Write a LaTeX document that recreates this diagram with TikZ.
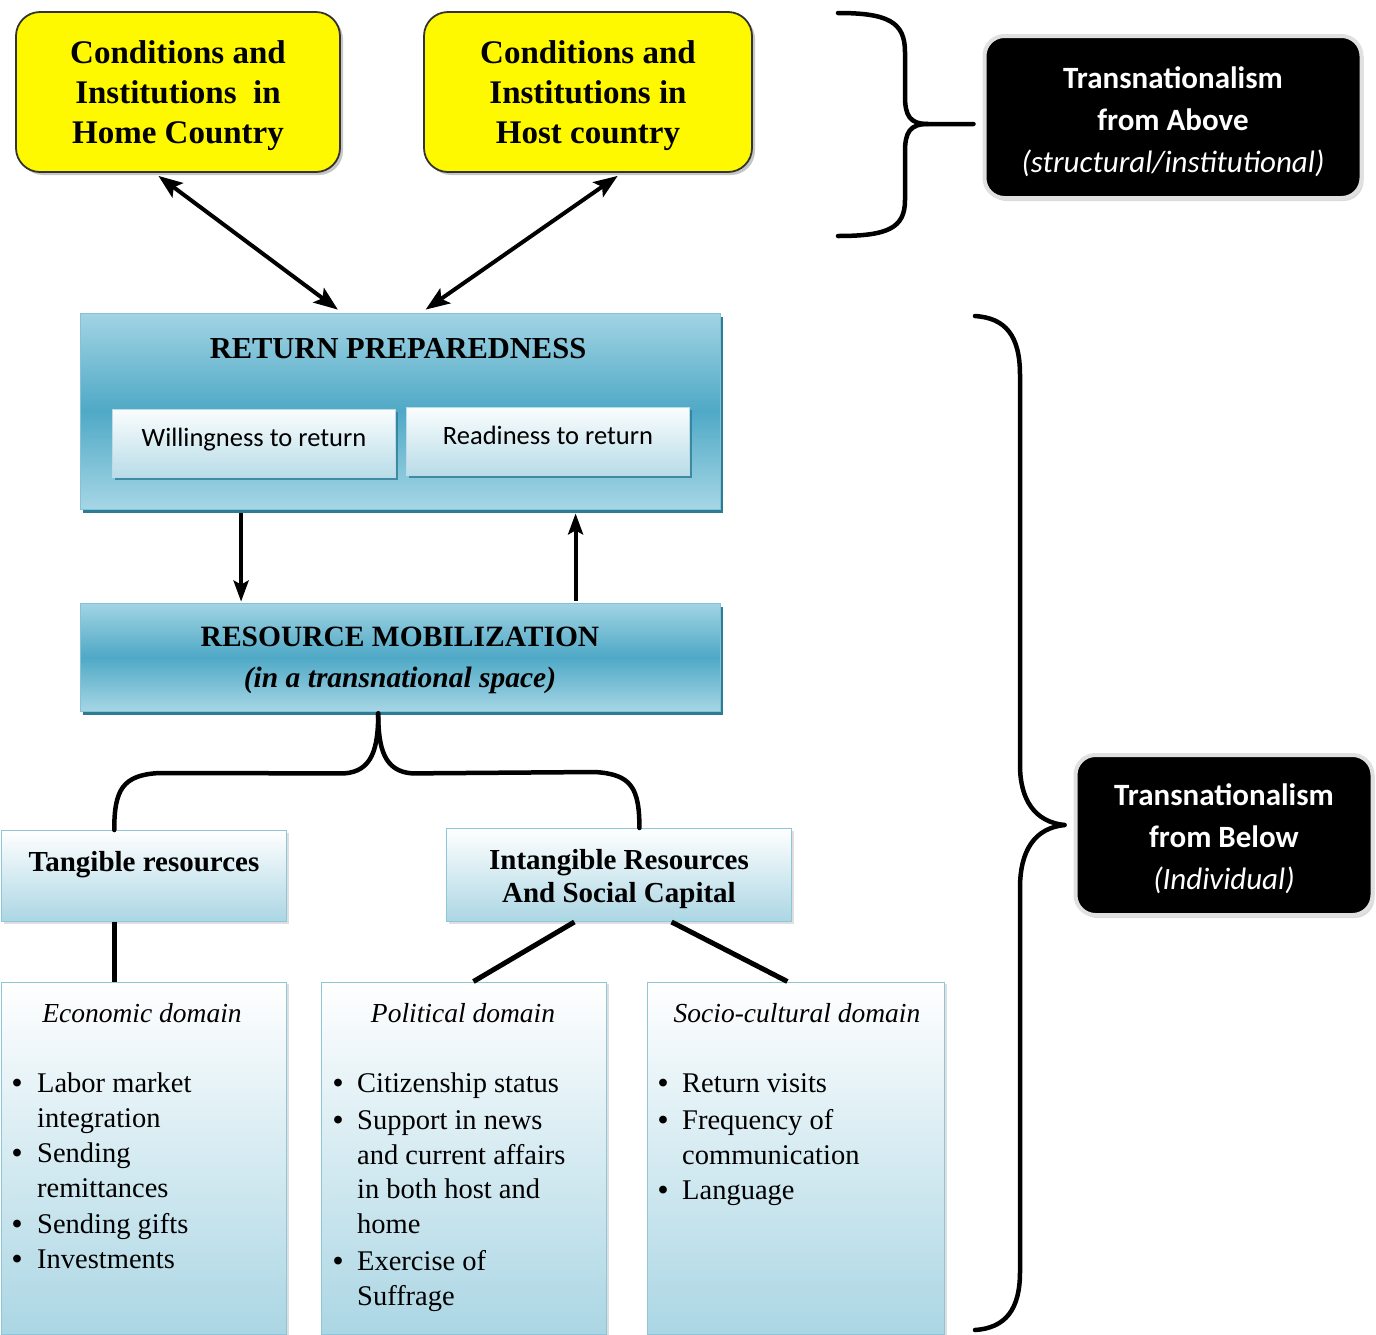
\documentclass[tikz,border=0pt]{standalone}
\usepackage{fontspec}
\setmainfont{Liberation Serif}
\newfontfamily\calfont{Carlito}
\usetikzlibrary{arrows.meta,shadows,calc}
\definecolor{yel}{HTML}{FFF900}
\definecolor{tealtop}{HTML}{A2D4E4}
\definecolor{tealmid}{HTML}{4FA9C6}
\definecolor{tealbot}{HTML}{A6D6E5}
\definecolor{tealedge}{HTML}{2D7C96}
\definecolor{paleblue}{HTML}{ABD6E4}
\definecolor{paleedge}{HTML}{8EC5D7}
\begin{document}
\begin{tikzpicture}[x=1pt,y=-1pt,
  yellowbox/.style={rounded corners=24pt, fill=yel, draw=black!80, line width=1.8pt,
    drop shadow={shadow xshift=3pt,shadow yshift=-3pt,opacity=0.45},
    inner sep=0pt, align=center, font=\fontsize{33}{40}\selectfont\bfseries},
  tealbox/.style={top color=tealtop, bottom color=tealbot, middle color=tealmid,
    draw=tealmid!70, line width=0.8pt,
    drop shadow={shadow xshift=3pt,shadow yshift=-4pt,fill=tealedge,opacity=1},
    inner sep=0pt, align=center},
  innerbox/.style={top color=white!96!tealtop, bottom color=paleblue!85, draw=paleedge!60, line width=0.6pt,
    drop shadow={shadow xshift=2pt,shadow yshift=-3pt,fill=tealedge,opacity=0.8},
    inner sep=0pt, align=center, font=\calfont\fontsize{26.5}{30}\selectfont},
  palebox/.style={top color=white, bottom color=paleblue, draw=paleedge, line width=1pt,
    drop shadow={shadow xshift=2pt,shadow yshift=-2pt,opacity=0.25},
    inner sep=0pt},
  blackbox/.style={rounded corners=20pt, fill=black, draw=black!12, line width=4pt,
    drop shadow={shadow xshift=2pt,shadow yshift=-3pt,opacity=0.3},
    inner sep=0pt, align=center, text=white, font=\calfont\fontsize{31}{42}\selectfont},
  conn/.style={line width=4pt, draw=black},
  onehead/.style={-{Stealth[length=21pt,width=15pt,inset=4pt]}},
  twohead/.style={{Stealth[length=24pt,width=18pt,inset=5pt]}-{Stealth[length=24pt,width=18pt,inset=5pt]}},
  bracepath/.style={line width=4.5pt, draw=black, line cap=round, line join=round},
  boldlabel/.style={font=\fontsize{29}{33}\selectfont\bfseries, align=center, inner sep=0pt},
  domtitle/.style={font=\fontsize{27.5}{32}\selectfont\itshape, inner sep=0pt},
  domlist/.style={font=\fontsize{28.5}{34.5}\selectfont, inner sep=0pt, anchor=base west}
]
\newcommand\bul{{\bfseries\textbullet}}
\useasboundingbox (0,0) rectangle (1376,1334);

% top yellow boxes
\node[yellowbox, minimum width=324pt, minimum height=160pt] (home) at (178,92)
  {\rule{0pt}{31pt}Conditions and\\Institutions~ in\\Home Country};
\node[yellowbox, minimum width=328pt, minimum height=160pt] (host) at (588,92)
  {\rule{0pt}{31pt}Conditions and\\Institutions in\\Host country};

% return preparedness
\node[tealbox, minimum width=640pt, minimum height=196pt] (rp) at (400,411) {};
\node[font=\fontsize{30.5}{36}\selectfont\bfseries, inner sep=0pt] (rpt) at (398,349) {RETURN PREPAREDNESS};
\node[innerbox, minimum width=283pt, minimum height=68pt] (will) at (254,443) {\rule{0pt}{14pt}Willingness to return\rule[-12pt]{0pt}{12pt}};
\node[innerbox, minimum width=283pt, minimum height=68pt] (read) at (548,441) {\rule{0pt}{14pt}Readiness to return\rule[-12pt]{0pt}{12pt}};

% resource mobilization
\node[tealbox, minimum width=640pt, minimum height=108pt, font=\fontsize{29.5}{41}\selectfont\bfseries] (rm) at (400,657)
  {\rule{0pt}{26pt}RESOURCE MOBILIZATION\\\textit{(in a transnational space)}};

% resources
\node[palebox, minimum width=285pt, minimum height=91pt] (tang) at (144,876) {};
\node[boldlabel] (tangt) at (144,865) {Tangible resources};
\node[palebox, minimum width=345pt, minimum height=93pt, font=\fontsize{29}{33}\selectfont\bfseries, align=center] (intang) at (619,875)
  {\rule{0pt}{28pt}Intangible Resources\\And Social Capital};

% domains
\node[palebox, minimum width=285pt, minimum height=352pt] (econ) at (144,1158) {};
\node[palebox, minimum width=285pt, minimum height=352pt] (pol) at (464,1158) {};
\node[palebox, minimum width=297pt, minimum height=352pt] (soc) at (796,1158) {};

\node[domtitle] (econt) at (142,1013) {Economic domain};
\node[domtitle] (polt) at (463,1013) {Political domain};
\node[domtitle] (soct) at (797,1013) {Socio-cultural domain};

\node[domlist] (econl) at (12,1092) {\begin{tabular}[t]{@{}l@{\hspace{15pt}}l@{}}
\bul & Labor market\\[0.5pt] & integration\\[0.5pt] \bul & Sending\\[0.5pt] & remittances\\[2pt]
\bul & Sending gifts\\[0.5pt] \bul & Investments\end{tabular}};
\node[domlist] (poll) at (333,1092) {\begin{tabular}[t]{@{}l@{\hspace{14pt}}l@{}}
\bul & Citizenship status\\[3pt] \bul & Support in news\\ & and current affairs\\ & in both host and\\ & home\\[3pt]
\bul & Exercise of\\ & Suffrage\end{tabular}};
\node[domlist] (socl) at (658,1092) {\begin{tabular}[t]{@{}l@{\hspace{14pt}}l@{}}
\bul & Return visits\\[3pt] \bul & Frequency of\\ & communication\\[1pt] \bul & Language\end{tabular}};

% black boxes
\node[blackbox, minimum width=377pt, minimum height=162pt] (above) at (1173,117)
  {\rule{0pt}{32pt}\textbf{Transnationalism}\\\textbf{from Above}\\\textit{(structural/institutional)}};
\node[blackbox, minimum width=297pt, minimum height=160pt] (below) at (1224,835)
  {\rule{0pt}{30pt}\textbf{Transnationalism}\\\textbf{from Below}\\\textit{(Individual)}};

% connectors
\draw[conn, twohead] ($(home.south west)!0.44!(home.south east)+(0,3)$) -- ($(rp.north west)!0.403!(rp.north east)+(0,-3)$);
\draw[conn, twohead] ($(host.south west)!0.59!(host.south east)+(0,3)$) -- ($(rp.north west)!0.54!(rp.north east)+(0,-3)$);
\draw[conn, onehead] ($(rp.south west)!0.252!(rp.south east)+(0,4)$) -- ($(rm.north west)!0.252!(rm.north east)+(0,-1)$);
\draw[conn, onehead] ($(rm.north west)!0.774!(rm.north east)+(0,-2)$) -- ($(rp.south west)!0.774!(rp.south east)+(0,4)$);

% lower brace from resource mobilization to the two resource boxes
\coordinate (bt) at ($(rm.south west)!0.466!(rm.south east)+(0,2)$);
\coordinate (bl) at ($(tang.north west)!0.396!(tang.north east)$);
\coordinate (br) at ($(intang.north west)!0.559!(intang.north east)$);
\draw[bracepath] (bt) .. controls ($(bt)+(0,35)$) and ($(bt)+(-6,58)$) .. ($(bt)+(-34,60)$)
  -- ($(bl)+(45,-57)$) .. controls ($(bl)+(8,-55)$) and ($(bl)+(0,-40)$) .. (bl);
\draw[bracepath] (bt) .. controls ($(bt)+(0,35)$) and ($(bt)+(6,58)$) .. ($(bt)+(34,60)$)
  -- ($(br)+(-45,-56)$) .. controls ($(br)+(-8,-54)$) and ($(br)+(0,-40)$) .. (br);

% resource boxes to domain boxes
\draw[conn, line width=5pt] ($(tang.south west)!0.396!(tang.south east)$) -- ($(econ.north west)!0.396!(econ.north east)$);
\draw[conn, line width=5pt] ($(intang.south west)!0.371!(intang.south east)$) -- ($(pol.north west)!0.533!(pol.north east)$);
\draw[conn, line width=5pt] ($(intang.south west)!0.652!(intang.south east)$) -- ($(soc.north west)!0.471!(soc.north east)$);

% brace for transnationalism from above
\coordinate (ta) at ($(above.west)+(-9,7)$);
\draw[bracepath] (838,13) .. controls (888,13) and (905,22) .. (905,52)
  -- (905,96) .. controls (905,116) and (910,124) .. (928,124) -- (ta);
\draw[bracepath] (928,124) .. controls (910,124) and (905,132) .. (905,152)
  -- (905,200) .. controls (905,228) and (888,236) .. (838,236);

% brace for transnationalism from below
\coordinate (tb) at ($(below.west)+(-9,-10)$);
\draw[bracepath] (975,316) .. controls (1005,318) and (1020,335) .. (1020,375)
  -- (1020,765) .. controls (1020,800) and (1035,822) .. (tb);
\draw[bracepath] (tb) .. controls (1035,828) and (1020,850) .. (1020,888)
  -- (1020,1272) .. controls (1020,1310) and (1005,1328) .. (975,1330);
\end{tikzpicture}
\end{document}
